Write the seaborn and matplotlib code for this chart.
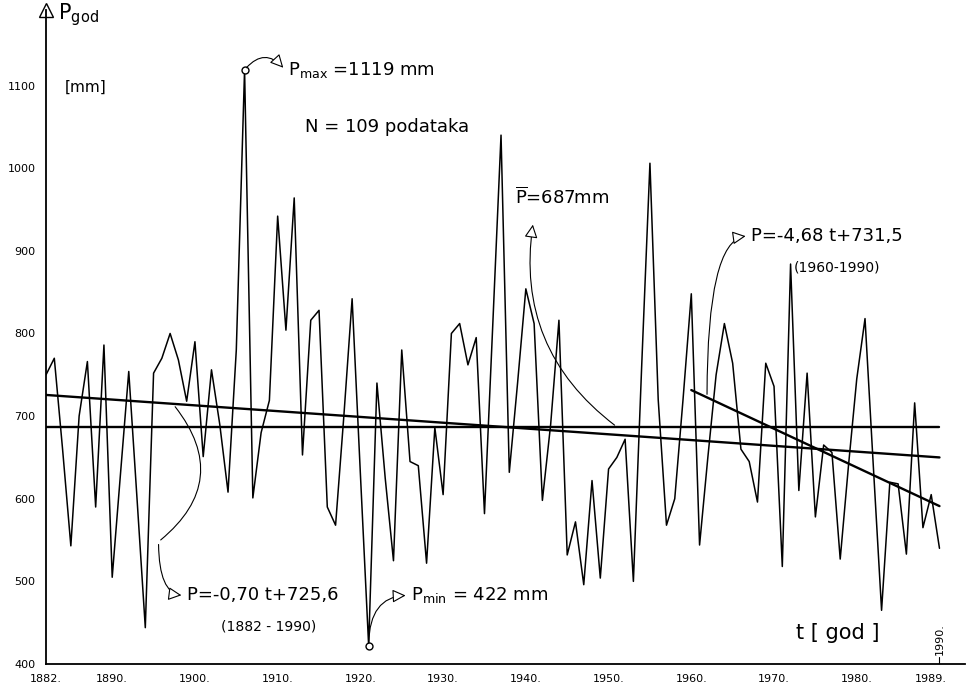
import matplotlib
matplotlib.use("Agg")
import matplotlib.pyplot as plt
import seaborn as sns
import pandas as pd
import numpy as np

# annual precipitation
YEARS = list(range(1882, 1991))
P_GOD = [
    750, 770, 660, 543, 700, 766, 590, 786, 505, 630,   # 1882-1891
    754, 600, 444, 752, 770, 800, 768, 718, 790, 651,   # 1892-1901
    756, 690, 608, 780, 1119, 601, 680, 719, 942, 804,  # 1902-1911
    964, 653, 816, 828, 590, 568, 700, 842, 630, 422,   # 1912-1921
    740, 625, 525, 780, 645, 640, 522, 686, 605, 800,   # 1922-1931
    812, 762, 795, 582, 810, 1040, 632, 740, 854, 812,  # 1932-1941
    598, 690, 816, 532, 572, 496, 622, 504, 636, 650,   # 1942-1951
    672, 500, 760, 1006, 720, 568, 600, 720, 848, 544,  # 1952-1961
    650, 750, 812, 764, 660, 645, 596, 764, 736, 518,   # 1962-1971
    884, 610, 752, 578, 665, 656, 527, 640, 745, 818,   # 1972-1981
    640, 465, 620, 618, 533, 716, 565, 605, 540,        # 1982-1990
]

P_MEAN = 687
# long trend P = -0.70 t + 725.6 (t from 1882), short trend P = -4.68 t + 731.5 (t from 1960)
LONG_A, LONG_B, LONG_START, LONG_END = -0.70, 725.6, 1882, 1990
SHORT_A, SHORT_B, SHORT_START, SHORT_END = -4.68, 731.5, 1960, 1990

X_TICKS = [1882, 1890, 1900, 1910, 1920, 1930, 1940, 1950, 1960, 1970, 1980, 1989]
X_LABELS = [f"{t}." for t in X_TICKS]
Y_TICKS = [400, 500, 600, 700, 800, 900, 1000, 1100]

df = pd.DataFrame({"godina": YEARS, "P": P_GOD})

sns.set_style("white")
plt.rcParams["font.family"] = ["DejaVu Sans"]
plt.rcParams["text.color"] = "black"
plt.rcParams["xtick.color"] = "black"
plt.rcParams["ytick.color"] = "black"

fig = plt.figure(figsize=(9.69, 7.0), dpi=100)
ax = fig.add_axes([0.0475, 0.0514, 0.9485, 0.935])

sns.lineplot(data=df, x="godina", y="P", color="black", lw=1.1, ax=ax)

# mean and trend lines
ax.plot([1882, 1990], [P_MEAN, P_MEAN], color="black", lw=1.7)
lx = np.array([LONG_START, LONG_END])
ax.plot(lx, LONG_A * (lx - LONG_START) + LONG_B, color="black", lw=1.7)
sx = np.array([SHORT_START, SHORT_END])
ax.plot(sx, SHORT_A * (sx - SHORT_START) + SHORT_B, color="black", lw=1.7)

# max and min markers
i_max = int(np.argmax(P_GOD))
i_min = int(np.argmin(P_GOD))
ax.plot(YEARS[i_max], P_GOD[i_max], "o", mfc="white", mec="black", ms=5)
ax.plot(YEARS[i_min], P_GOD[i_min], "o", mfc="white", mec="black", ms=5)

ax.set_xlim(1882, 1993.1)
ax.set_ylim(400, 1192)
ax.set_xticks(X_TICKS)
ax.set_xticklabels(X_LABELS, fontsize=8)
ax.set_yticks(Y_TICKS)
ax.set_yticklabels([str(v) for v in Y_TICKS], fontsize=8)
ax.tick_params(direction="out", length=4, width=0.9)
ax.set_xlabel("")
ax.set_ylabel("")
for s in ["top", "right"]:
    ax.spines[s].set_visible(False)
for s in ["left", "bottom"]:
    ax.spines[s].set_color("black")
    ax.spines[s].set_linewidth(1.3)

# axis arrow on y
ax.plot(0, 1, marker="^", mfc="white", mec="black", ms=10, transform=ax.transAxes, clip_on=False)

arrow = dict(arrowstyle="-|>", fc="white", ec="black", lw=0.8, mutation_scale=20)
thin = dict(arrowstyle="-", ec="black", lw=0.8)

ax.text(1883.5, 1186, r"P$_{\rm god}$", fontsize=15, va="center")
ax.text(1884.3, 1098, "[mm]", fontsize=11, va="center")

# P max
ax.annotate("", xy=(1910.9, 1119), xytext=(YEARS[i_max], P_GOD[i_max]),
            arrowprops=dict(arrow, connectionstyle="arc3,rad=-0.6"))
ax.text(1911.2, 1119, r"P$_{\rm max}$ =1119 mm", fontsize=13, va="center")
ax.text(1913.3, 1050, "N = 109 podataka", fontsize=13, va="center")

# mean
ax.annotate("", xy=(1940.9, 935), xytext=(1951, P_MEAN),
            arrowprops=dict(arrow, connectionstyle="arc3,rad=-0.3"))
ax.text(1938.7, 965, r"$\overline{\rm P}$=687mm", fontsize=13, va="center")

# short trend
ax.annotate("", xy=(1966.9, 918), xytext=(1961.9, 723),
            arrowprops=dict(arrow, connectionstyle="angle3,angleA=90,angleB=0"))
ax.text(1967.2, 918, "P=-4,68 t+731,5", fontsize=13, va="center")
ax.text(1972.4, 880, "(1960-1990)", fontsize=10, va="center")

# long trend
ax.annotate("", xy=(1895.6, 548), xytext=(1897.4, 714),
            arrowprops=dict(thin, connectionstyle="arc3,rad=-0.5"))
ax.annotate("", xy=(1898.7, 483), xytext=(1895.6, 548),
            arrowprops=dict(arrow, connectionstyle="angle3,angleA=-90,angleB=0"))
ax.text(1899.0, 483, "P=-0,70 t+725,6", fontsize=13, va="center")
ax.text(1903.2, 446, "(1882 - 1990)", fontsize=10, va="center")

# P min
ax.annotate("", xy=(1925.8, 483), xytext=(YEARS[i_min], P_GOD[i_min]),
            arrowprops=dict(arrow, connectionstyle="angle3,angleA=90,angleB=0"))
ax.text(1926.1, 483, r"P$_{\rm min}$ = 422 mm", fontsize=13, va="center")

ax.text(1972.6, 438, "t [ god ]", fontsize=15, va="center")
ax.text(1990.1, 430, "1990.", fontsize=8, rotation=90, ha="center", va="center")
ax.plot([1990, 1990], [400, 409], color="black", lw=0.8)

fig.savefig("out.png", dpi=100)
